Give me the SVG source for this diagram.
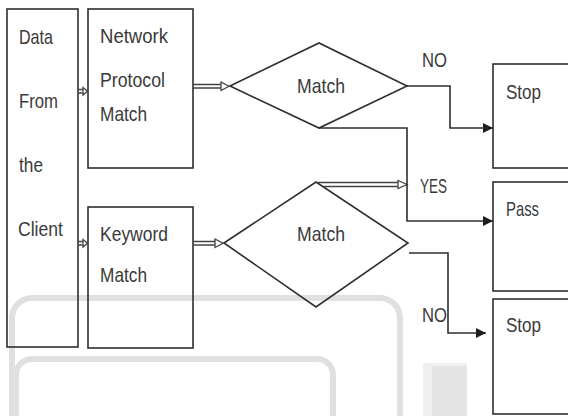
<svg xmlns="http://www.w3.org/2000/svg" width="568" height="416" viewBox="0 0 568 416">
<style>
.box{fill:none;stroke:#2e2e2e;stroke-width:1.6}
.t{font-family:"Liberation Sans",Arial,sans-serif;font-size:21px;fill:#3a3a3a}
.ln{fill:none;stroke:#2e2e2e;stroke-width:1.6}
.dbl{fill:none;stroke:#444;stroke-width:1.3}
.head{fill:#fff;stroke:#444;stroke-width:1.3}
.bg{fill:none;stroke:#e0e0e0;stroke-width:6}
</style>
<defs>
<marker id="ah" viewBox="0 0 10 10" refX="10" refY="5" markerWidth="10" markerHeight="10" markerUnits="userSpaceOnUse" orient="auto">
<path d="M0,0 L10,5 L0,10 z" fill="#1e1e1e"/>
</marker>
</defs>
<rect width="568" height="416" fill="#fff"/>
<g id="background">
<rect class="bg" x="12" y="298" width="388" height="180" rx="20"/>
<rect class="bg" x="16" y="359" width="317" height="120" rx="16"/>
<rect x="423" y="363" width="44" height="53" fill="#f0f0f0"/>
<rect x="432" y="366" width="35" height="50" fill="#e4e4e4"/>
</g>
<g id="data-client">
<rect class="box" x="7" y="9" width="71" height="338"/>
<text class="t" x="19" y="44" textLength="34" lengthAdjust="spacingAndGlyphs">Data</text>
<text class="t" x="19" y="108" textLength="39" lengthAdjust="spacingAndGlyphs">From</text>
<text class="t" x="19" y="172" textLength="24" lengthAdjust="spacingAndGlyphs">the</text>
<text class="t" x="18" y="236" textLength="45" lengthAdjust="spacingAndGlyphs">Client</text>
</g>
<g id="network-protocol">
<rect class="box" x="88" y="9" width="105" height="159"/>
<text class="t" x="100" y="43" textLength="68" lengthAdjust="spacingAndGlyphs">Network</text>
<text class="t" x="100" y="87" textLength="65" lengthAdjust="spacingAndGlyphs">Protocol</text>
<text class="t" x="100" y="121" textLength="47" lengthAdjust="spacingAndGlyphs">Match</text>
</g>
<g id="keyword">
<rect class="box" x="88" y="207" width="105" height="141"/>
<text class="t" x="100" y="241" textLength="68" lengthAdjust="spacingAndGlyphs">Keyword</text>
<text class="t" x="100" y="282" textLength="47" lengthAdjust="spacingAndGlyphs">Match</text>
</g>
<g id="match1">
<polygon class="box" points="230,86 319,43 407,86 319,128"/>
<text class="t" x="297" y="93" textLength="48" lengthAdjust="spacingAndGlyphs">Match</text>
</g>
<g id="match2">
<polygon class="box" points="224,243 316,182 408,243 316,307"/>
<text class="t" x="297" y="241" textLength="48" lengthAdjust="spacingAndGlyphs">Match</text>
</g>
<g id="stop1">
<rect class="box" x="493" y="64" width="80" height="104"/>
<text class="t" x="506" y="99" textLength="35" lengthAdjust="spacingAndGlyphs">Stop</text>
</g>
<g id="pass">
<rect class="box" x="493" y="182" width="80" height="109"/>
<text class="t" x="506" y="216" textLength="33" lengthAdjust="spacingAndGlyphs">Pass</text>
</g>
<g id="stop2">
<rect class="box" x="493" y="299" width="80" height="115"/>
<text class="t" x="506" y="332" textLength="35" lengthAdjust="spacingAndGlyphs">Stop</text>
</g>
<g id="connectors">
<path class="dbl" d="M78,89.5 H83 M78,93 H83"/>
<path class="head" d="M83,87.5 L87.5,91.2 L83,95 z"/>
<path class="dbl" d="M78,241.5 H83 M78,245 H83"/>
<path class="head" d="M83,239.5 L87.5,243.2 L83,247 z"/>
<path class="dbl" d="M193,84.5 H221 M193,88 H221"/>
<path class="head" d="M221,82 L229,86.2 L221,90.5 z"/>
<path class="dbl" d="M193,241.5 H215 M193,245 H215"/>
<path class="head" d="M215,239 L223,243.2 L215,247.5 z"/>
<path class="dbl" d="M318,182.5 H398 M324,186.5 H398"/>
<path class="head" d="M398,180.5 L407,184.5 L398,188.5 z"/>
<path class="ln" d="M407,86 H450 V128 H493" marker-end="url(#ah)"/>
<path class="ln" d="M319,128 H407 V221 H493" marker-end="url(#ah)"/>
<path class="ln" d="M409,253 H448 V333 H486" marker-end="url(#ah)"/>
<text class="t" x="422" y="67" textLength="25" lengthAdjust="spacingAndGlyphs">NO</text>
<text class="t" x="420" y="193" textLength="27" lengthAdjust="spacingAndGlyphs">YES</text>
<text class="t" x="422" y="322" textLength="25" lengthAdjust="spacingAndGlyphs">NO</text>
</g>
</svg>
